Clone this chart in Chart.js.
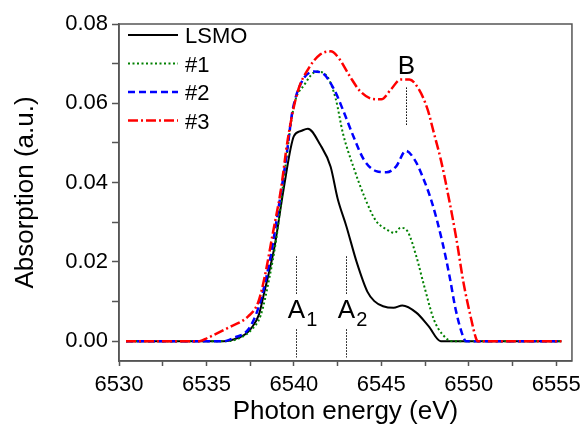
<!DOCTYPE html>
<html>
<head>
<meta charset="utf-8">
<script src="https://cdn.jsdelivr.net/npm/chart.js@4"></script>
<style>
  body { margin: 0; background: #fff; }
  canvas { display: block; }
</style>
</head>
<body>
<canvas id="spectrumChart" width="587" height="427"></canvas>
<script>
// Photon energy (eV) / absorption (a.u.)
const energyLSMO = [6530.4, 6536.0, 6536.6, 6537.2, 6537.6, 6538.0, 6538.3, 6538.9, 6539.4, 6540.0, 6540.4, 6540.8, 6541.5, 6542.1, 6542.5, 6543.0, 6543.6, 6544.2, 6544.6, 6545.1, 6545.7, 6546.2, 6547.0, 6547.7, 6548.4, 6555.3];
const absLSMO = [0, 0, 0.0005, 0.0017, 0.0035, 0.0067, 0.0122, 0.024, 0.038, 0.0517, 0.053, 0.0536, 0.0496, 0.044, 0.036, 0.029, 0.0198, 0.0125, 0.0101, 0.0088, 0.0084, 0.009, 0.0072, 0.0038, 0, 0];

const energyS1 = [6530.4, 6536.2, 6537.0, 6537.6, 6538.1, 6538.6, 6539.0, 6539.4, 6540.0, 6540.6, 6541.3, 6541.9, 6542.4, 6542.8, 6543.4, 6544.1, 6544.7, 6545.3, 6545.75, 6546.1, 6546.5, 6547.0, 6547.45, 6548.0, 6548.5, 6549.05, 6555.3];
const absS1 = [0, 0, 0.001, 0.003, 0.0065, 0.016, 0.026, 0.04, 0.0593, 0.0647, 0.068, 0.0668, 0.061, 0.0525, 0.044, 0.0357, 0.0303, 0.0282, 0.0273, 0.0286, 0.0277, 0.0214, 0.0139, 0.0055, 0.0017, 0, 0];

const energyS2 = [6530.4, 6536.0, 6536.6, 6537.4, 6538.0, 6538.6, 6539.1, 6539.6, 6539.9, 6540.4, 6541.15, 6541.6, 6542.3, 6542.8, 6543.4, 6544.0, 6544.7, 6545.3, 6545.85, 6546.4, 6546.9, 6547.35, 6547.9, 6548.5, 6548.9, 6549.25, 6549.7, 6549.85, 6555.3];
const absS2 = [0, 0, 0.0009, 0.003, 0.0088, 0.0198, 0.033, 0.0475, 0.0576, 0.065, 0.068, 0.0677, 0.0635, 0.0584, 0.0517, 0.0458, 0.0429, 0.0426, 0.0441, 0.048, 0.0458, 0.0416, 0.0349, 0.0248, 0.0164, 0.008, 0.0009, 0, 0];

const energyS3 = [6530.4, 6534.6, 6535.1, 6536.25, 6537.4, 6537.95, 6538.3, 6538.8, 6539.25, 6539.65, 6540.2, 6540.8, 6541.5, 6542.1, 6542.55, 6543.2, 6543.8, 6544.5, 6545.0, 6545.55, 6546.1, 6546.6, 6547.15, 6547.65, 6548.0, 6548.4, 6548.8, 6549.3, 6549.7, 6550.1, 6550.4, 6550.5, 6555.3];
const absS3 = [0, 0, 0.0009, 0.0034, 0.0063, 0.0097, 0.0156, 0.0273, 0.038, 0.0509, 0.0627, 0.0685, 0.0723, 0.0731, 0.0715, 0.0668, 0.063, 0.0611, 0.061, 0.0635, 0.066, 0.066, 0.0635, 0.0584, 0.0526, 0.0458, 0.0374, 0.0256, 0.0147, 0.0063, 0.0009, 0, 0];

const seriesNames = ['LSMO', '#1', '#2', '#3'];

// major ticks labelled, minor ones in between
const xTicks = [6530, 6532.5, 6535, 6537.5, 6540, 6542.5, 6545, 6547.5, 6550, 6552.5, 6555];
const yTicks = [0, 0.01, 0.02, 0.03, 0.04, 0.05, 0.06, 0.07, 0.08];

// feature markers A1, A2, B
const markLabels = ['A', 'A', 'B'];
const markSubs = ['1', '2', ''];
const markEnergy = [6540.1, 6543.0, 6546.4];
const markTextAbs = [0.0059, 0.0059, 0.0673];
const markSegments = [
    [[0.0214, 0.0118], [0.003, -0.0041]],
    [[0.0214, 0.0118], [0.003, -0.0041]],
    [[0.064, 0.0544]]
];

const FONT = "'Liberation Sans', Arial, sans-serif";

function toPoints(xs, ys) {
    return xs.map((x, i) => ({ x, y: ys[i] }));
}

const styles = [
    { color: '#000000', dash: [], width: 2 },
    { color: '#008000', dash: [2, 2.5], width: 2 },
    { color: '#0000ff', dash: [7, 4], width: 2.5 },
    { color: '#ff0000', dash: [10, 3, 2, 3], width: 2.5 }
];
const seriesData = [
    toPoints(energyLSMO, absLSMO),
    toPoints(energyS1, absS1),
    toPoints(energyS2, absS2),
    toPoints(energyS3, absS3)
];

const datasets = seriesNames.map((name, i) => ({
    label: name,
    data: seriesData[i],
    borderColor: styles[i].color,
    borderDash: styles[i].dash,
    borderWidth: styles[i].width,
    fill: false,
    pointRadius: 0,
    cubicInterpolationMode: 'monotone',
    order: 4 - i
}));

// frame, in-plot legend and the A1/A2/B markers
const framePlugin = {
    id: 'framePlugin',
    afterDraw(chart) {
        const { ctx, chartArea: a, scales: { x, y } } = chart;
        ctx.save();
        ctx.strokeStyle = '#555';
        ctx.lineWidth = 1.5;
        ctx.strokeRect(a.left, a.top, a.right - a.left, a.bottom - a.top);

        // legend
        chart.data.datasets.forEach((ds, i) => {
            const ly = a.top + 11 + i * 28.5;
            ctx.beginPath();
            ctx.setLineDash(ds.borderDash);
            ctx.strokeStyle = ds.borderColor;
            ctx.lineWidth = ds.borderWidth;
            ctx.moveTo(a.left + 9, ly);
            ctx.lineTo(a.left + 59, ly);
            ctx.stroke();
            ctx.setLineDash([]);
            ctx.fillStyle = '#000';
            ctx.font = '22px ' + FONT;
            ctx.textAlign = 'left';
            ctx.textBaseline = 'middle';
            ctx.fillText(ds.label, a.left + 66, ly + 2);
        });

        // markers
        ctx.strokeStyle = '#000';
        ctx.lineWidth = 1;
        ctx.setLineDash([1.5, 1.5]);
        markEnergy.forEach((e, i) => {
            const px = Math.round(x.getPixelForValue(e)) + 0.5;
            markSegments[i].forEach(([y0, y1]) => {
                ctx.beginPath();
                ctx.moveTo(px, y.getPixelForValue(y0));
                ctx.lineTo(px, y.getPixelForValue(y1));
                ctx.stroke();
            });
            const ty = y.getPixelForValue(markTextAbs[i]);
            ctx.fillStyle = '#000';
            ctx.textBaseline = 'alphabetic';
            ctx.textAlign = 'center';
            ctx.font = '26px ' + FONT;
            ctx.fillText(markLabels[i], px, ty);
            if (markSubs[i]) {
                const w = ctx.measureText(markLabels[i]).width;
                ctx.textAlign = 'left';
                ctx.font = '20px ' + FONT;
                ctx.fillText(markSubs[i], px + w / 2 + 1, ty + 8);
            }
        });
        ctx.restore();
    }
};

new Chart(document.getElementById('spectrumChart'), {
    type: 'line',
    data: { datasets },
    options: {
        responsive: false,
        animation: false,
        devicePixelRatio: 1,
        layout: { padding: { top: 24, right: 9, left: 0, bottom: 0 } },
        plugins: { legend: { display: false }, tooltip: { enabled: false } },
        scales: {
            x: {
                type: 'linear',
                min: 6530,
                max: 6555.9,
                afterBuildTicks: s => { s.ticks = xTicks.map(v => ({ value: v })); },
                afterFit: s => { s.height = 66; },
                grid: { drawOnChartArea: false, tickLength: 5, tickColor: '#555', tickWidth: 1.5 },
                border: { color: '#555', width: 1.5 },
                ticks: {
                    autoSkip: false,
                    maxRotation: 0,
                    padding: 6,
                    color: '#000',
                    font: { family: FONT, size: 22 },
                    callback: v => (v % 5 === 0 ? String(v) : '')
                },
                title: {
                    display: true,
                    text: 'Photon energy (eV)',
                    color: '#000',
                    font: { family: FONT, size: 26 },
                    padding: { top: 0, bottom: 0 }
                }
            },
            y: {
                type: 'linear',
                min: -0.005,
                max: 0.08,
                afterBuildTicks: s => { s.ticks = yTicks.map(v => ({ value: v })); },
                afterFit: s => { s.width = 119; },
                grid: { drawOnChartArea: false, tickLength: 7, tickColor: '#555', tickWidth: 1.5 },
                border: { color: '#555', width: 1.5 },
                ticks: {
                    padding: 4,
                    color: '#000',
                    font: { family: FONT, size: 22 },
                    callback: v => (Math.round(v * 100) % 2 === 0 ? v.toFixed(2) : '')
                },
                title: {
                    display: true,
                    text: 'Absorption (a.u.)',
                    color: '#000',
                    font: { family: FONT, size: 26 },
                    padding: { top: 10, bottom: 0 }
                }
            }
        }
    },
    plugins: [framePlugin]
});
</script>
</body>
</html>
